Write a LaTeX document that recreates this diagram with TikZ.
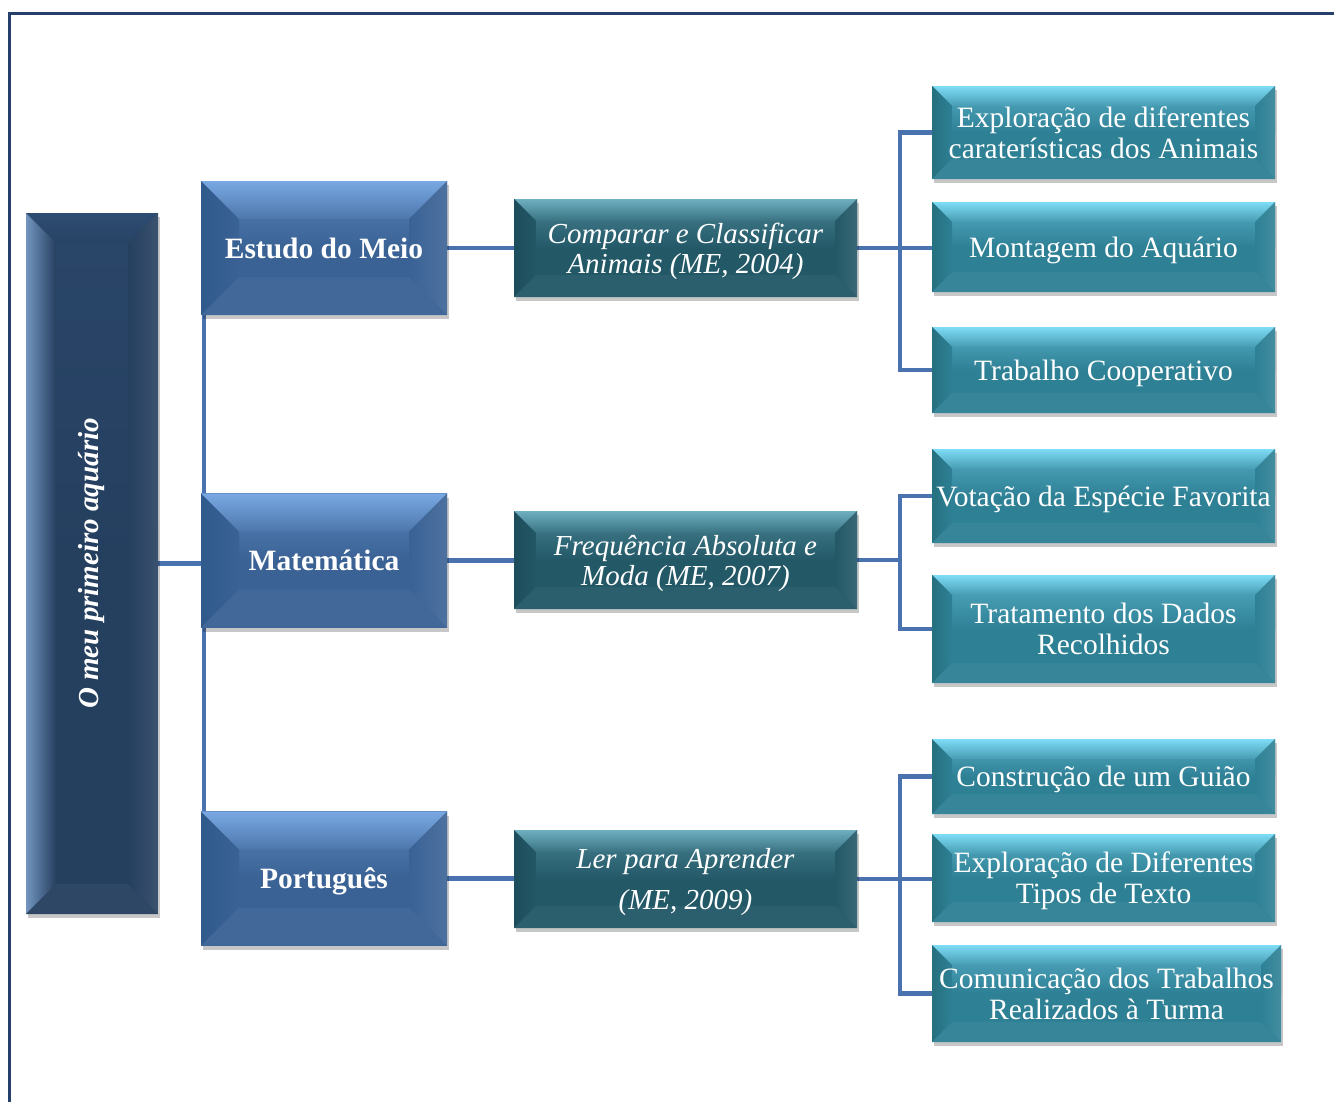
\documentclass[tikz,border=0pt]{standalone}
\usepackage{fontspec}
\setmainfont{Liberation Serif}
\usetikzlibrary{shadows,backgrounds,calc}
\definecolor{rootc}{HTML}{253F5F}
\definecolor{rootl}{HTML}{2E4C72}
\definecolor{roote}{HTML}{7395C0}
\definecolor{lac}{HTML}{3A6295}
\definecolor{lal}{HTML}{79A8E2}
\definecolor{lae}{HTML}{30598C}
\definecolor{lbc}{HTML}{235867}
\definecolor{lbl}{HTML}{6EAFC0}
\definecolor{lbe}{HTML}{1D4D5B}
\definecolor{lcc}{HTML}{2E8095}
\definecolor{lcl}{HTML}{7EDCF6}
\definecolor{lce}{HTML}{26707F}
\definecolor{linec}{HTML}{4A72AE}
\definecolor{framec}{HTML}{24406B}
\tikzset{
  bev/.style n args={4}{
    fill=#1, draw=none, text=white, align=center, inner sep=0pt, text depth=0pt,
    drop shadow={shadow xshift=1.5pt,shadow yshift=-4pt,opacity=.22,fill=black},
    path picture={
      \coordinate (NW) at (path picture bounding box.north west);
      \coordinate (NE) at (path picture bounding box.north east);
      \coordinate (SW) at (path picture bounding box.south west);
      \coordinate (SE) at (path picture bounding box.south east);
      \shade[top color=#2!50!#1, bottom color=#1] (NW) rectangle ($(NE)!0.5!(SE)$);
      \shade[top color=#2, bottom color=#2!30!#1] (NW) -- (NE) -- ([xshift=-#4pt,yshift=-#4pt]NE) -- ([xshift=#4pt,yshift=-#4pt]NW) -- cycle;
      \shade[left color=#3, right color=#1] (NW) -- ([xshift=#4pt,yshift=-#4pt]NW) -- ([xshift=#4pt,yshift=#4pt]SW) -- (SW) -- cycle;
      \shade[left color=#1, right color=#1!90!white] (NE) -- (SE) -- ([xshift=-#4pt,yshift=#4pt]SE) -- ([xshift=-#4pt,yshift=-#4pt]NE) -- cycle;
      \fill[#1!96!white] (SW) -- (SE) -- ([xshift=-#4pt,yshift=#4pt]SE) -- ([xshift=#4pt,yshift=#4pt]SW) -- cycle;
    }
  },
  rootbox/.style={bev={rootc}{rootl}{roote}{30}, minimum width=132pt, minimum height=701pt},
  lvla/.style={bev={lac}{lal}{lae}{38}, minimum width=246pt, minimum height=134pt,
    font=\bfseries\fontsize{29.5}{31}\selectfont},
  lvlb/.style={bev={lbc}{lbl}{lbe}{22}, minimum width=343pt, minimum height=98pt,
    font=\itshape\fontsize{29}{30}\selectfont},
  lvlc/.style={bev={lcc}{lcl}{lce}{20}, minimum width=343pt,
    font=\fontsize{29.5}{31}\selectfont},
  conn/.style={draw=linec, line width=4.5pt},
}
\begin{document}
\begin{tikzpicture}[x=1pt,y=-1pt]
\useasboundingbox (0,0) rectangle (1334,1101);
\draw[framec, line width=3pt] (9,1110) -- (9,13) -- (1340,13);

% root
\node[rootbox] (root) at (92,563.5) {};
\node[rotate=90, text=white, font=\bfseries\itshape\fontsize{29}{31}\selectfont] (rootlbl) at (root) {O meu primeiro aquário};

% level 1
\node[lvla] (est) at (324,248) {Estudo do Meio};
\node[lvla] (mat) at (324,560.5) {Matemática};
\node[lvla] (por) at (324,878.5) {Português};

% level 2
\node[lvlb] (cmp) at (685.5,248) {Comparar e Classificar\\Animais (ME, 2004)};
\node[lvlb] (frq) at (685.5,560) {Frequência Absoluta e\\Moda (ME, 2007)};
\node[lvlb] (ler) at (685.5,879) {Ler para Aprender\\[11pt](ME, 2009)};

% level 3
\node[lvlc, minimum height=93pt] (a1) at (1103.5,132.5) {Exploração de diferentes\\caraterísticas dos Animais};
\node[lvlc, minimum height=90pt] (a2) at (1103.5,247) {Montagem do Aquário};
\node[lvlc, minimum height=86pt] (a3) at (1103.5,370) {Trabalho Cooperativo};
\node[lvlc, minimum height=94pt] (b1) at (1103.5,496) {Votação da Espécie Favorita};
\node[lvlc, minimum height=108pt] (b2) at (1103.5,629) {Tratamento dos Dados\\Recolhidos};
\node[lvlc, minimum height=75pt] (c1) at (1103.5,776.5) {Construção de um Guião};
\node[lvlc, minimum height=88pt] (c2) at (1103.5,878) {Exploração de Diferentes\\Tipos de Texto};
\node[lvlc, minimum height=97pt, minimum width=349pt] (c3) at (1106.5,993.5) {Comunicação dos Trabalhos\\Realizados à Turma};

\coordinate (fork) at (900,0);
\begin{scope}[on background layer]
  % root to level 1
  \draw[conn] (root.east) -- (root.east -| mat.west);
  \draw[conn] ([xshift=3pt]est.west) -- ([xshift=3pt]por.west);
  % level 1 to level 2
  \draw[conn] (est.east) -- (est.east -| cmp.west);
  \draw[conn] (mat.east) -- (mat.east -| frq.west);
  \draw[conn] (por.east) -- (por.east -| ler.west);
  % level 2 to level 3
  \draw[conn] (cmp.east) -- (cmp.east -| a2.west);
  \draw[conn] (a1.west) -- (a1.west -| fork) |- (a3.west);
  \draw[conn] (frq.east) -- (frq.east -| fork);
  \draw[conn] (b1.west) -- (b1.west -| fork) |- (b2.west);
  \draw[conn] (ler.east) -- (ler.east -| c2.west);
  \draw[conn] (c1.west) -- (c1.west -| fork) |- (c3.west);
\end{scope}
\end{tikzpicture}
\end{document}
